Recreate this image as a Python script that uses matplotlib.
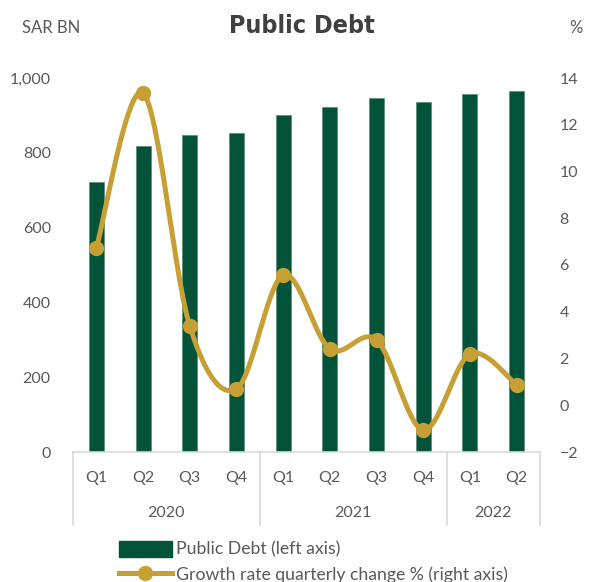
import numpy as np
import matplotlib
matplotlib.use("Agg")
import matplotlib.pyplot as plt
from matplotlib.lines import Line2D
from matplotlib.patches import Patch
import matplotlib.transforms as mtransforms

quarters = ["Q1", "Q2", "Q3", "Q4", "Q1", "Q2", "Q3", "Q4", "Q1", "Q2"]
years = ["2020", "2021", "2022"]
year_sizes = [4, 4, 2]
debt = [722, 818, 848, 853, 901, 922, 946, 936, 957, 965]
growth = [6.73, 13.35, 3.39, 0.70, 5.57, 2.41, 2.79, -1.06, 2.19, 0.87]

GREEN = "#03533a"
GOLD = "#c6a034"
GREY = "#595959"
SEP = "#d9d9d9"

plt.rcParams["font.family"] = ["Lato", "DejaVu Sans"]


def smooth(xs, ys, n=40):
    # catmull-rom through the points, like a spreadsheet "smoothed line"
    p = np.column_stack([xs, ys]).astype(float)
    p = np.vstack([p[0], p, p[-1]])
    out = []
    for i in range(1, len(p) - 2):
        p0, p1, p2, p3 = p[i - 1], p[i], p[i + 1], p[i + 2]
        c1 = p1 + (p2 - p0) / 6
        c2 = p2 - (p3 - p1) / 6
        t = np.linspace(0, 1, n)[:, None]
        seg = ((1 - t) ** 3) * p1 + 3 * ((1 - t) ** 2) * t * c1 \
            + 3 * (1 - t) * t ** 2 * c2 + t ** 3 * p2
        out.append(seg if i == 1 else seg[1:])
    s = np.vstack(out)
    return s[:, 0], s[:, 1]


fig = plt.figure(figsize=(5.94, 5.82), dpi=100)
ax = fig.add_axes([73 / 594, 130 / 582, 467 / 594, 374 / 582])
x = np.arange(len(quarters))

ax.bar(x, debt, width=0.32, color=GREEN, edgecolor="#5f8f7c", linewidth=0.6, zorder=2)
ax.set_xlim(-0.5, len(quarters) - 0.5)
ax.set_ylim(0, 1000)
ax.set_yticks(range(0, 1001, 200))
ax.set_yticklabels([f"{v:,}" for v in range(0, 1001, 200)])
ax.tick_params(axis="y", length=0, colors=GREY, labelsize=11.5, pad=16)
ax.set_xticks([])
for s in ["top", "right", "left"]:
    ax.spines[s].set_visible(False)
ax.spines["bottom"].set_color(SEP)
ax.spines["bottom"].set_linewidth(1.2)

ax2 = ax.twinx()
ax2.set_ylim(-2, 14)
ax2.set_yticks(range(-2, 15, 2))
ax2.tick_params(axis="y", length=0, colors=GREY, labelsize=11.5, pad=14)
for s in ax2.spines.values():
    s.set_visible(False)

sx, sy = smooth(x, growth)
ax2.plot(sx, sy, color=GOLD, lw=3.6, solid_capstyle="round", zorder=3)
ax2.plot(x, growth, "o", color=GOLD, ms=10, zorder=4)

# two-level category axis
trans = mtransforms.blended_transform_factory(ax.transData, ax.transAxes)
for xi, q in zip(x, quarters):
    ax.text(xi, -0.07, q, transform=trans, ha="center", va="center",
            fontsize=11.5, color=GREY)
start = -0.5
edges = [start]
for ys, n in zip(years, year_sizes):
    ax.text(start + n / 2, -0.163, ys, transform=trans, ha="center",
            va="center", fontsize=11.5, color=GREY)
    start += n
    edges.append(start)
for e in edges:
    ax.plot([e, e], [0, -0.195], transform=trans, color=SEP, lw=1.2, clip_on=False)

fig.text(302 / 594, 1 - 26 / 582, "Public Debt", ha="center", va="center",
         fontsize=18, fontweight="bold", fontstretch="condensed", color="#404040",
         family="DejaVu Sans")
fig.text(22 / 594, 1 - 28 / 582, "SAR BN", ha="left", va="center",
         fontsize=12, color=GREY)
fig.text(583 / 594, 1 - 28 / 582, "%", ha="right", va="center",
         fontsize=12, color=GREY)

handles = [Patch(facecolor=GREEN, edgecolor=GREEN),
           Line2D([], [], color=GOLD, lw=3.6, marker="o", ms=10)]
labels = ["Public Debt (left axis)", "Growth rate quarterly change % (right axis)"]
fig.legend(handles, labels, loc="upper left", bbox_to_anchor=(110 / 594, 1 - 532 / 582),
           frameon=False, fontsize=12.7, labelcolor=GREY, handlelength=3.0,
           handleheight=1.0, handletextpad=0.25, labelspacing=0.45, borderpad=0)

fig.savefig("out.png", dpi=100)
